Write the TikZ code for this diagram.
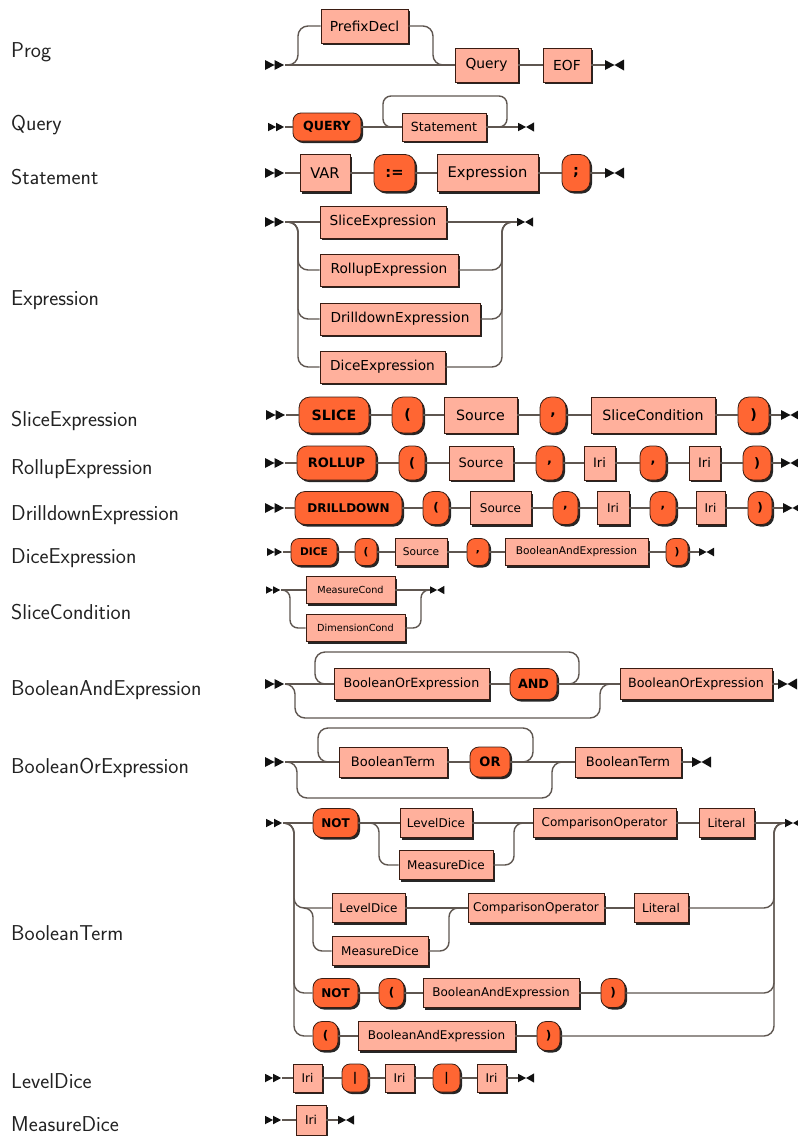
\documentclass[tikz,border=0pt]{standalone}
\usepackage{fontspec}
\newfontfamily\boxfont{DejaVu Sans}
\usetikzlibrary{shadows}
\definecolor{ntfill}{HTML}{FFB09C}
\definecolor{tmfill}{HTML}{FF6633}
\definecolor{edgec}{HTML}{3A1C12}
\definecolor{railc}{HTML}{5E5650}
\definecolor{markc}{HTML}{111111}
\definecolor{labc}{HTML}{222222}
\def\rowh{30}\def\rowfs{12}\def\rowr{8}
\begin{document}
\begin{tikzpicture}[x=1pt,y=-1pt,
  rail/.style={draw=railc, line width=1.4pt},
  rc/.style={rounded corners=#1},
  box/.style={rectangle, inner sep=0pt, draw=edgec, line width=0.8pt, text=black,
    minimum height=\rowh,
    drop shadow={shadow xshift=2pt, shadow yshift=-2pt, opacity=0.85, fill=black}},
  nt/.style={box, fill=ntfill, minimum width=#1,
    font=\boxfont\fontsize{\rowfs}{\rowfs}\selectfont},
  tm/.style={box, fill=tmfill, rounded corners=\rowr, minimum width=#1,
    font=\boxfont\bfseries\fontsize{\rowfs}{\rowfs}\selectfont},
  lbl/.style={anchor=base west, inner sep=0pt, text=labc,
    font=\sffamily\fontsize{21.5}{24}\selectfont},
  startmark/.pic={\fill[markc] (-20,-5) -- (-10.5,0) -- (-20,5) -- cycle
                               (-10.5,-5) -- (-1,0) -- (-10.5,5) -- cycle;},
  endmark/.pic={\fill[markc] (0,-5) -- (9.5,0) -- (0,5) -- cycle
                             (19,-5.5) -- (9.5,0) -- (19,5.5) -- cycle;}
]
\useasboundingbox (0,0) rectangle (798,1136);

% rule names
\node[lbl] (lProg) at (11,57) {Prog};
\node[lbl] (lQuery) at (11,130) {Query};
\node[lbl] (lStatement) at (11,184) {Statement};
\node[lbl] (lExpression) at (11,305) {Expression};
\node[lbl] (lSlice) at (11,426) {SliceExpression};
\node[lbl] (lRollup) at (11,474) {RollupExpression};
\node[lbl] (lDrill) at (11,520) {DrilldownExpression};
\node[lbl] (lDice) at (11,563) {DiceExpression};
\node[lbl] (lSliceCond) at (11,619) {SliceCondition};
\node[lbl] (lBAnd) at (11,695) {BooleanAndExpression};
\node[lbl] (lBOr) at (11,773) {BooleanOrExpression};
\node[lbl] (lBTerm) at (11,940) {BooleanTerm};
\node[lbl] (lLevel) at (11,1088) {LevelDice};
\node[lbl] (lMeasure) at (11,1131) {MeasureDice};

% Prog
\begin{scope}
\def\rowh{34}\def\rowfs{13.8}
\coordinate (p0) at (285,65); \pic at (p0) {startmark};
\coordinate (p1) at (605,65); \pic at (p1) {endmark};
\node[nt=87] (pd) at (364.5,26) {PrefixDecl};
\node[nt=63] (pq) at (486.5,65) {Query};
\node[nt=48] (peof) at (567,65) {EOF};
\coordinate (pl) at (298,65); \coordinate (pr) at (433,65);
\draw[rail] (p0) -- (pq) (pq) -- (peof) (peof) -- (p1);
\draw[rail, rc=10] (p0) -| (pl |- pd) -- (pd);
\draw[rail, rc=10] (pd) -| (pr) -- (pq);
\end{scope}

% Query
\begin{scope}
\def\rowh{28}\def\rowfs{12.6}\def\rowr{8}
\coordinate (q0) at (285,127); \pic[scale=0.85] at (q0) {startmark};
\coordinate (q1) at (518,127); \pic[scale=0.85] at (q1) {endmark};
\node[tm=68] (qk) at (327,127) {QUERY};
\node[nt=84] (qst) at (444,127) {Statement};
\coordinate (qlt) at (383,96); \coordinate (qrt) at (507,96);
\draw[rail] (q0) -- (qk) (qk) -- (qst) (qst) -- (q1);
\draw[rail, rc=8] (qst) -| (qrt) -- (qlt) |- (qst);
\end{scope}

% Statement
\begin{scope}
\def\rowh{37}\def\rowfs{14.7}\def\rowr{10}
\coordinate (s0) at (285,173); \pic at (s0) {startmark};
\coordinate (s1) at (605,173); \pic at (s1) {endmark};
\node[nt=50] (svar) at (325,173) {VAR};
\node[tm=41] (sas) at (394.5,173) {:=};
\node[nt=101] (sex) at (487.5,173) {Expression};
\node[tm=28] (ssc) at (576,173) {;};
\draw[rail] (s0) -- (svar) (svar) -- (sas) (sas) -- (sex) (sex) -- (ssc) (ssc) -- (s1);
\end{scope}

% Expression
\begin{scope}
\def\rowh{32}\def\rowfs{13.7}
\coordinate (e0) at (285,222); \pic at (e0) {startmark};
\coordinate (e1) at (517,222); \pic[scale=0.85] at (e1) {endmark};
\node[nt=126] (ese) at (383,222) {SliceExpression};
\node[nt=138] (ere) at (389,270) {RollupExpression};
\node[nt=160] (ede) at (400,319) {DrilldownExpression};
\node[nt=125] (edi) at (382.5,367) {DiceExpression};
\coordinate (el) at (298,222); \coordinate (er) at (502,222);
\draw[rail] (e0) -- (ese) (ese) -- (e1);
\foreach \b in {ere,ede,edi}{
  \draw[rail, rc=10] (e0) -| (el |- \b) -- (\b);
  \draw[rail, rc=10] (\b) -| (er) -- (e1);
}
\end{scope}

% SliceExpression
\begin{scope}
\def\rowh{36}\def\rowfs{14.2}\def\rowr{11}
\coordinate (x0) at (286,415); \pic at (x0) {startmark};
\coordinate (x1) at (781,415); \pic at (x1) {endmark};
\node[tm=70] (xk) at (334,415) {SLICE};
\node[tm=31] (xlp) at (407.5,415) {(};
\node[nt=73] (xsrc) at (480.5,415) {Source};
\node[tm=26] (xcm) at (553,415) {,};
\node[nt=124] (xcond) at (653,415) {SliceCondition};
\node[tm=31] (xrp) at (753.5,415) {)};
\draw[rail] (x0) -- (xk) (xk) -- (xlp) (xlp) -- (xsrc) (xsrc) -- (xcm)
  (xcm) -- (xcond) (xcond) -- (xrp) (xrp) -- (x1);
\end{scope}

% RollupExpression
\begin{scope}
\def\rowh{34}\def\rowfs{13}\def\rowr{10}
\coordinate (r0) at (285,463); \pic at (r0) {startmark};
\coordinate (r1) at (781,463); \pic at (r1) {endmark};
\node[tm=79] (rk) at (336.5,463) {ROLLUP};
\node[tm=26] (rlp) at (412,463) {(};
\node[nt=64] (rsrc) at (481,463) {Source};
\node[tm=27] (rc1) at (549.5,463) {,};
\node[nt=31] (ri1) at (599.5,463) {Iri};
\node[tm=26] (rc2) at (653,463) {,};
\node[nt=31] (ri2) at (704.5,463) {Iri};
\node[tm=28] (rrp) at (757,463) {)};
\draw[rail] (r0) -- (rk) (rk) -- (rlp) (rlp) -- (rsrc) (rsrc) -- (rc1) (rc1) -- (ri1)
  (ri1) -- (rc2) (rc2) -- (ri2) (ri2) -- (rrp) (rrp) -- (r1);
\end{scope}

% DrilldownExpression
\begin{scope}
\def\rowh{33}\def\rowfs{12}\def\rowr{10}
\coordinate (d0) at (285,508); \pic at (d0) {startmark};
\coordinate (d1) at (783,508); \pic at (d1) {endmark};
\node[tm=107] (dk) at (348.5,508) {DRILLDOWN};
\node[tm=26] (dlp) at (436,508) {(};
\node[nt=61] (dsrc) at (500.5,508) {Source};
\node[tm=25] (dc1) at (565.5,508) {,};
\node[nt=32] (di1) at (613,508) {Iri};
\node[tm=26] (dc2) at (663,508) {,};
\node[nt=29] (di2) at (710.5,508) {Iri};
\node[tm=24] (drp) at (760,508) {)};
\draw[rail] (d0) -- (dk) (dk) -- (dlp) (dlp) -- (dsrc) (dsrc) -- (dc1) (dc1) -- (di1)
  (di1) -- (dc2) (dc2) -- (di2) (di2) -- (drp) (drp) -- (d1);
\end{scope}

% DiceExpression
\begin{scope}
\def\rowh{27}\def\rowfs{10.6}\def\rowr{8}
\coordinate (c0) at (283,552); \pic[scale=0.8] at (c0) {startmark};
\coordinate (c1) at (699,552); \pic[scale=0.8] at (c1) {endmark};
\node[tm=46] (ck) at (314,552) {DICE};
\node[tm=22] (clp) at (366,552) {(};
\node[nt=52] (csrc) at (421,552) {Source};
\node[tm=22] (ccm) at (478,552) {,};
\node[nt=143] (cbae) at (576.5,552) {BooleanAndExpression};
\node[tm=22] (crp) at (677,552) {)};
\draw[rail] (c0) -- (ck) (ck) -- (clp) (clp) -- (csrc) (csrc) -- (ccm)
  (ccm) -- (cbae) (cbae) -- (crp) (crp) -- (c1);
\end{scope}

% SliceCondition
\begin{scope}
\def\rowh{27}\def\rowfs{9.7}
\coordinate (k0) at (281,590); \pic[scale=0.75] at (k0) {startmark};
\coordinate (k1) at (430,590); \pic[scale=0.75] at (k1) {endmark};
\node[nt=89] (kmc) at (350.5,590) {MeasureCond};
\node[nt=99] (kdc) at (355.5,628) {DimensionCond};
\coordinate (kl) at (290,590); \coordinate (kr) at (421,590);
\draw[rail] (k0) -- (kmc) (kmc) -- (k1);
\draw[rail, rc=8] (k0) -| (kl |- kdc) -- (kdc);
\draw[rail, rc=8] (kdc) -| (kr) -- (k1);
\end{scope}

% BooleanAndExpression
\begin{scope}
\def\rowh{31}\def\rowfs{12.7}\def\rowr{9}
\coordinate (b0) at (285,684); \pic at (b0) {startmark};
\coordinate (b1) at (778,684); \pic at (b1) {endmark};
\node[nt=155] (bo1) at (411.5,684) {BooleanOrExpression};
\node[tm=47] (band) at (533.5,684) {AND};
\node[nt=152] (bo2) at (696,684) {BooleanOrExpression};
\coordinate (blt) at (315,652); \coordinate (brt) at (579,652);
\coordinate (blb) at (295,718); \coordinate (brb) at (600,718);
\draw[rail] (b0) -- (bo1) (bo1) -- (band) (band) -- (bo2) (bo2) -- (b1);
\draw[rail, rc=10] (band) -| (brt) -- (blt) |- (bo1);
\draw[rail, rc=10] (b0) -| (blb) -- (brb) |- (bo2);
\end{scope}

% BooleanOrExpression
\begin{scope}
\def\rowh{30}\def\rowfs{13}\def\rowr{9}
\coordinate (o0) at (285,762); \pic at (o0) {startmark};
\coordinate (o1) at (692,762); \pic at (o1) {endmark};
\node[nt=108] (ot1) at (393,762) {BooleanTerm};
\node[tm=40] (oor) at (490,762) {OR};
\node[nt=106] (ot2) at (628,762) {BooleanTerm};
\coordinate (olt) at (318,728); \coordinate (ort) at (533,728);
\coordinate (olb) at (297,798); \coordinate (orb) at (552,798);
\draw[rail] (o0) -- (ot1) (ot1) -- (oor) (oor) -- (ot2) (ot2) -- (o1);
\draw[rail, rc=10] (oor) -| (ort) -- (olt) |- (ot1);
\draw[rail, rc=10] (o0) -| (olb) -- (orb) |- (ot2);
\end{scope}

% BooleanTerm
\begin{scope}
\def\rowh{29}\def\rowfs{12}\def\rowr{9}
\coordinate (t0) at (283,823); \pic[scale=0.85] at (t0) {startmark};
\coordinate (t1) at (785,823); \pic[scale=0.85] at (t1) {endmark};
\coordinate (tl) at (294,823); \coordinate (tr) at (774,823);
% first alternative
\node[tm=45] (tn1) at (335.5,823) {NOT};
\node[nt=72] (tld1) at (436,823) {LevelDice};
\node[nt=94] (tmd1) at (446,865) {MeasureDice};
\node[nt=143] (tco1) at (604.5,823) {ComparisonOperator};
\node[nt=55] (tli1) at (726.5,823) {Literal};
\coordinate (ta1) at (379,823); \coordinate (tb1) at (514,823);
\draw[rail] (t0) -- (tn1) (tn1) -- (tld1) (tld1) -- (tco1) (tco1) -- (tli1) (tli1) -- (t1);
\draw[rail, rc=9] (tn1) -| (ta1 |- tmd1) -- (tmd1);
\draw[rail, rc=9] (tmd1) -| (tb1) -- (tco1);
% second alternative
\node[nt=73] (tld2) at (368.5,908) {LevelDice};
\node[nt=96] (tmd2) at (380,951) {MeasureDice};
\node[nt=136] (tco2) at (536,908) {ComparisonOperator};
\node[nt=54] (tli2) at (661,908) {Literal};
\coordinate (tj2) at (304,908);
\coordinate (ta2) at (313,908); \coordinate (tb2) at (449,908);
\draw[rail, rc=10] (t0) -| (tl |- tld2) -- (tld2);
\draw[rail] (tld2) -- (tco2) (tco2) -- (tli2);
\draw[rail, rc=9] (tj2) -| (ta2 |- tmd2) -- (tmd2);
\draw[rail, rc=9] (tmd2) -| (tb2) -- (tco2);
\draw[rail, rc=10] (tli2) -| (tr) -- (t1);
% third alternative
\node[tm=45] (tn3) at (335.5,993) {NOT};
\node[tm=25] (tlp3) at (391.5,993) {(};
\node[nt=156] (tbae3) at (501,993) {BooleanAndExpression};
\node[tm=24] (trp3) at (613,993) {)};
\draw[rail, rc=10] (t0) -| (tl |- tn3) -- (tn3);
\draw[rail] (tn3) -- (tlp3) (tlp3) -- (tbae3) (tbae3) -- (trp3);
\draw[rail, rc=10] (trp3) -| (tr) -- (t1);
% fourth alternative
\node[tm=25] (tlp4) at (325.5,1036) {(};
\node[nt=157] (tbae4) at (436.5,1036) {BooleanAndExpression};
\node[tm=23] (trp4) at (548.5,1036) {)};
\draw[rail, rc=10] (t0) -| (tl |- tlp4) -- (tlp4);
\draw[rail] (tlp4) -- (tbae4) (tbae4) -- (trp4);
\draw[rail, rc=10] (trp4) -| (tr) -- (t1);
\end{scope}

% LevelDice
\begin{scope}
\def\rowh{28}\def\rowfs{12}\def\rowr{8}
\coordinate (v0) at (282,1078); \pic[scale=0.85] at (v0) {startmark};
\coordinate (v1) at (518,1078); \pic[scale=0.85] at (v1) {endmark};
\node[nt=29] (vi1) at (307.5,1078) {Iri};
\node[tm=26] (vb1) at (355,1078) {|};
\node[nt=29] (vi2) at (399.5,1078) {Iri};
\node[tm=27] (vb2) at (446.5,1078) {|};
\node[nt=29] (vi3) at (491.5,1078) {Iri};
\draw[rail] (v0) -- (vi1) (vi1) -- (vb1) (vb1) -- (vi2) (vi2) -- (vb2) (vb2) -- (vi3) (vi3) -- (v1);
\end{scope}

% MeasureDice
\begin{scope}
\def\rowh{30}\def\rowfs{12.2}
\coordinate (m0) at (282,1120); \pic[scale=0.85] at (m0) {startmark};
\coordinate (m1) at (338,1120); \pic[scale=0.85] at (m1) {endmark};
\node[nt=30] (mi) at (311,1120) {Iri};
\draw[rail] (m0) -- (mi) (mi) -- (m1);
\end{scope}
\end{tikzpicture}
\end{document}
